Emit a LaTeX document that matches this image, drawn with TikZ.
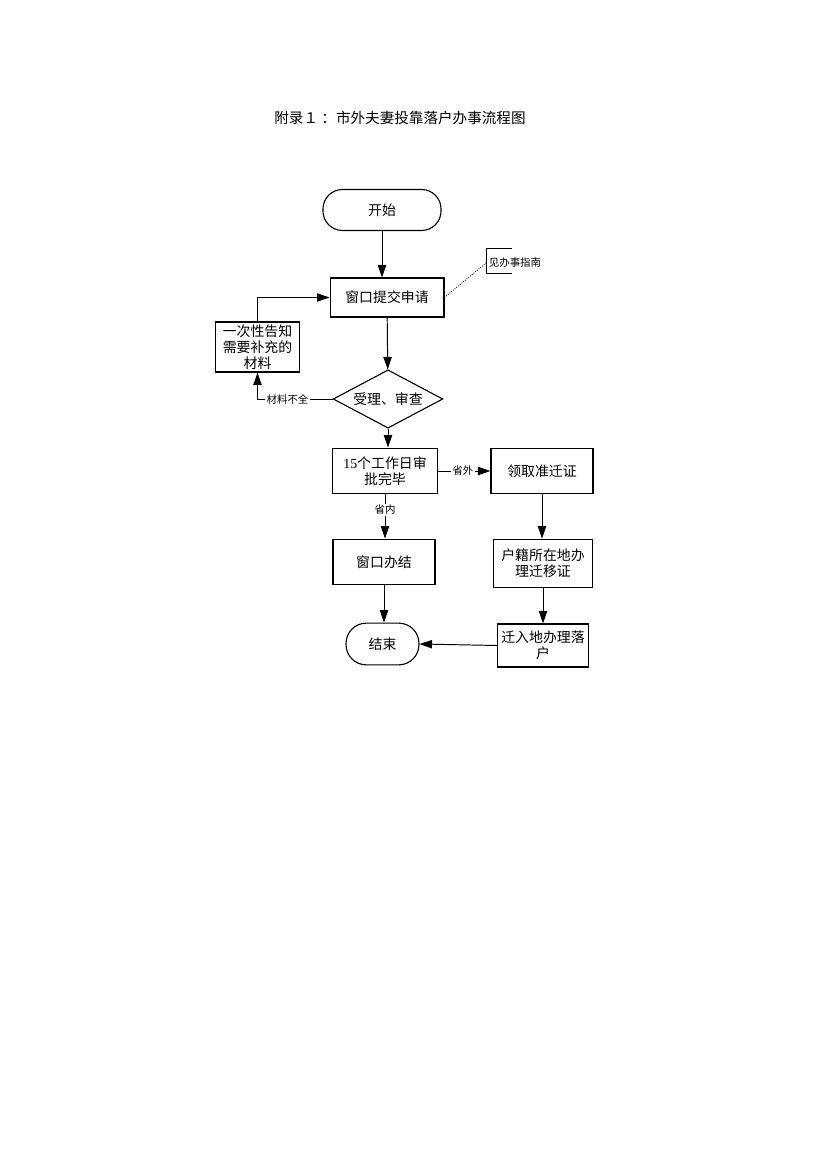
\documentclass[tikz,border=0pt]{standalone}
\usepackage{fontspec}
\setmainfont{Noto Sans CJK SC}
\newfontfamily\numfont{Liberation Serif}
\usetikzlibrary{shapes,arrows.meta}

\begin{document}
\begin{tikzpicture} [x=0.72pt, y=-0.72pt,
                     box/.style= {shape=rectangle, draw=black, line width=0.8pt,
                                  align=center, inner sep=1pt,
                                  font=\fontsize{10}{11.5}\selectfont},
                     term/.style= {box, rounded corners=14pt},
                     chk/.style= {shape=diamond, draw=black, line width=0.8pt,
                                  aspect=1.9, inner sep=0pt,
                                  minimum width=79pt, minimum height=42pt,
                                  font=\fontsize{10}{11.5}\selectfont},
                     lbl/.style= {fill=white, inner sep=1pt,
                                  font=\fontsize{7.5}{8}\selectfont},
                     flow/.style= {draw=black, line width=0.7pt,
                                   -{Triangle[length=9pt,width=6pt]}}]

\useasboundingbox (0,0) rectangle (827,1170);

\node[font=\fontsize{10.5}{12}\selectfont] (title) at (400,118) {附录１ ：市外夫妻投靠落户办事流程图};

\node[term, minimum width=85pt, minimum height=29.5pt] (start) at (382,210) {开始};
\node[box, minimum width=82pt, minimum height=28pt] (apply) at (387,297.5) {窗口提交申请};
\node[font=\fontsize{7.5}{8}\selectfont, inner sep=0pt] (note) at (515,263) {见办事指南};
\node[box, minimum width=60pt, minimum height=36pt] (notify) at (257.5,347) {一次性告知\\需要补充的\\材料};
\node[chk] (check) at (388,399) {受理、审查};
\node[box, minimum width=75pt, minimum height=33pt] (approve) at (385,471) {{\numfont 15}个工作日审\\批完毕};
\node[box, minimum width=73.5pt, minimum height=33pt] (permit) at (542,471) {领取准迁证};
\node[box, minimum width=73.5pt, minimum height=33pt] (local) at (384,562) {窗口办结};
\node[box, minimum width=71pt, minimum height=35pt] (moveout) at (543,563.5) {户籍所在地办\\理迁移证};
\node[term, minimum width=52.5pt, minimum height=30pt, rounded corners=14.5pt] (end) at (382.5,644) {结束};
\node[box, minimum width=65pt, minimum height=31pt] (settle) at (543,645.5) {迁入地办理落\\户};

\coordinate (nb) at (486,263);
\draw[line width=0.7pt] (512,248) -- (486,248) -- (486,273) -- (512,273);
\draw[densely dotted, line width=0.6pt] (apply.east) -- (nb);

\draw[flow] (start) -- (start |- apply.north);
\draw[flow] (apply) -- (check);
\draw[flow] (check.west) -| node[lbl, pos=0.3] {材料不全} (notify.south);
\draw[flow] (notify.north) |- (apply.west);
\draw[flow] (check.south) -- (check.south |- approve.north);
\draw[flow] (approve) -- node[lbl, pos=0.48] {省外} (permit);
\draw[flow] (approve.south) -- node[lbl, pos=0.35] {省内} (approve.south |- local.north);
\draw[flow] (permit) -- (permit |- moveout.north);
\draw[flow] (moveout) -- (moveout |- settle.north);
\draw[flow] (local.south) -- (local.south |- end.north);
\draw[flow] (settle.west) -- (end.east);
\end{tikzpicture}
\end{document}
